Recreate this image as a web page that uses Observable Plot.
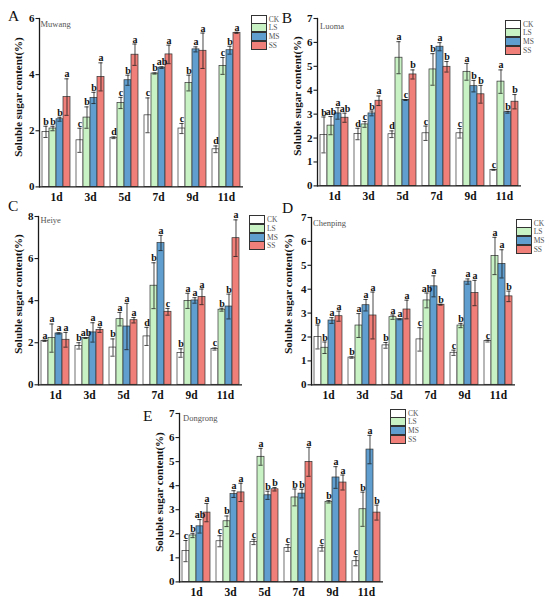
<!DOCTYPE html>
<html>
<head>
<meta charset="utf-8">
<script src="https://cdn.jsdelivr.net/npm/d3@7"></script>
<script src="https://cdn.jsdelivr.net/npm/@observablehq/plot@0.6"></script>
<style>
  html, body { margin: 0; padding: 0; background: #fff; }
  #root { position: relative; width: 550px; height: 606px; overflow: hidden; background: #fff;
          font-family: "Liberation Serif", "Times New Roman", serif; }
  .ytitle { position: absolute; white-space: nowrap; font-weight: bold; font-size: 11px; color: #111;
            transform: translate(-50%, -50%) rotate(-90deg); }
  .plabel { position: absolute; font-size: 15.5px; color: #111; line-height: 1; }
  .pname { position: absolute; font-size: 8.5px; color: #555; line-height: 1; }
  .legend { position: absolute; font-size: 7.5px; color: #555; }
  .legend .row { display: flex; align-items: center; height: 8.6px; }
  .legend .sw { width: 14px; height: 7px; border: 1px solid #333; margin-right: 2px; }
  svg.panel text { font-weight: bold; }
</style>
</head>
<body>
<div id="root"></div>
<script>
// ---------- data ----------
const days = ["1d", "3d", "5d", "7d", "9d", "11d"];
const treatments = ["CK", "LS", "MS", "SS"];

// Panel A – Muwang (rows: CK, LS, MS, SS)
const muwangMean = [
  [1.96, 1.66, 1.75, 2.55, 2.08, 1.34],
  [2.08, 2.47, 2.99, 4.04, 3.70, 4.31],
  [2.41, 3.17, 3.80, 4.25, 4.90, 4.87],
  [3.20, 3.92, 4.71, 4.72, 4.85, 5.49]
];
const muwangErr = [
  [0.20, 0.43, 0.03, 0.62, 0.18, 0.12],
  [0.08, 0.38, 0.20, 0.02, 0.28, 0.30],
  [0.07, 0.20, 0.18, 0.03, 0.09, 0.14],
  [0.65, 0.50, 0.38, 0.33, 0.63, 0.02]
];
const muwangSig = [
  ["b", "c", "d", "c", "c", "d"],
  ["b", "b", "c", "b", "b", "c"],
  ["b", "b", "b", "ab", "a", "b"],
  ["a", "a", "a", "a", "a", "a"]
];

// Panel B – Luoma
const luomaMean = [
  [2.13, 2.17, 2.16, 2.20, 2.20, 0.67],
  [2.52, 2.57, 5.36, 4.87, 4.77, 4.36],
  [3.03, 3.03, 3.59, 5.82, 4.17, 3.08],
  [2.85, 3.56, 4.66, 4.98, 3.83, 3.52]
];
const luomaErr = [
  [0.75, 0.24, 0.14, 0.30, 0.20, 0.02],
  [0.38, 0.12, 0.67, 0.66, 0.35, 0.49],
  [0.24, 0.10, 0.02, 0.17, 0.24, 0.04],
  [0.19, 0.20, 0.19, 0.22, 0.37, 0.30]
];
const luomaSig = [
  ["b", "d", "d", "c", "c", "c"],
  ["ab", "c", "a", "b", "a", "a"],
  ["a", "b", "c", "a", "b", "b"],
  ["ab", "a", "b", "b", "b", "b"]
];

// Panel C – Heiye
const heiyeMean = [
  [2.09, 1.85, 1.77, 2.30, 1.51, 1.70],
  [2.22, 2.22, 3.12, 4.71, 3.99, 3.57],
  [2.44, 2.49, 2.77, 6.74, 4.01, 3.72],
  [2.14, 2.61, 3.07, 3.47, 4.18, 6.97]
];
const heiyeErr = [
  [0.03, 0.15, 0.41, 0.43, 0.20, 0.05],
  [0.67, 0.02, 0.32, 1.09, 0.36, 0.07],
  [0.03, 0.46, 1.10, 0.36, 0.13, 0.59],
  [0.35, 0.12, 0.13, 0.16, 0.37, 0.87]
];
const heiyeSig = [
  ["a", "b", "b", "d", "b", "c"],
  ["a", "ab", "a", "b", "a", "b"],
  ["a", "a", "a", "a", "a", "b"],
  ["a", "a", "a", "c", "a", "a"]
];

// Panel D – Chenping
const chenpingMean = [
  [2.00, 1.14, 1.65, 1.90, 1.34, 1.83],
  [1.55, 2.48, 2.83, 3.53, 2.48, 5.39],
  [2.69, 3.33, 2.74, 4.12, 4.32, 5.06],
  [2.87, 2.90, 3.15, 3.35, 3.84, 3.70]
];
const chenpingErr = [
  [0.50, 0.03, 0.12, 0.49, 0.11, 0.04],
  [0.24, 0.50, 0.09, 0.31, 0.09, 0.78],
  [0.12, 0.24, 0.02, 0.44, 0.11, 0.59],
  [0.21, 0.98, 0.39, 0.02, 0.53, 0.22]
];
const chenpingSig = [
  ["b", "b", "b", "c", "c", "c"],
  ["b", "a", "a", "ab", "b", "a"],
  ["a", "a", "a", "a", "a", "a"],
  ["a", "a", "a", "b", "a", "b"]
];

// Panel E – Dongrong
const dongrongMean = [
  [1.28, 1.69, 1.66, 1.41, 1.40, 0.86],
  [1.93, 2.52, 5.20, 3.51, 3.33, 3.02],
  [2.31, 3.65, 3.60, 3.67, 4.34, 5.50],
  [2.88, 3.72, 3.85, 4.99, 4.13, 2.88]
];
const dongrongErr = [
  [0.44, 0.23, 0.11, 0.14, 0.12, 0.19],
  [0.09, 0.22, 0.35, 0.35, 0.05, 0.71],
  [0.28, 0.14, 0.17, 0.18, 0.45, 0.59],
  [0.38, 0.38, 0.07, 0.60, 0.31, 0.31]
];
const dongrongSig = [
  ["c", "c", "c", "c", "c", "c"],
  ["b", "b", "a", "b", "b", "b"],
  ["ab", "a", "b", "b", "a", "a"],
  ["a", "a", "b", "a", "a", "b"]
];

const yTitle = "Soluble sugar content(%)";
const colors = ["#ffffff", "#c8f2c4", "#5f9ecf", "#ef7f78"];
const SERIF = '"Liberation Serif", "Times New Roman", serif';

// ---------- layout ----------
const panels = [
  {tag: "A", name: "Muwang",   mean: muwangMean,   err: muwangErr,   sig: muwangSig,   yMax: 6, ticks: [0, 2, 4, 6],
   x0: 36.7, x1: 245.5, yTop: 18.3, yBot: 186.7, tOff: 18.5, leg: [250.7, 15], lab: [8, 7.5], nm: [40.5, 20]},
  {tag: "B", name: "Luoma",    mean: luomaMean,    err: luomaErr,    sig: luomaSig,    yMax: 7, ticks: [0,1,2,3,4,5,6,7],
   x0: 314.3, x1: 524, yTop: 18.3, yBot: 185.7, tOff: 17, leg: [505, 20], lab: [281.7, 10], nm: [320, 21.5]},
  {tag: "C", name: "Heiye",    mean: heiyeMean,    err: heiyeErr,    sig: heiyeSig,    yMax: 8, ticks: [0, 2, 4, 6, 8],
   x0: 36, x1: 244, yTop: 215.7, yBot: 384, tOff: 18, leg: [249, 215.7], lab: [8, 198], nm: [40.5, 216]},
  {tag: "D", name: "Chenping", mean: chenpingMean, err: chenpingErr, sig: chenpingSig, yMax: 7, ticks: [0,1,2,3,4,5,6,7],
   x0: 309, x1: 516, yTop: 216.7, yBot: 384, tOff: 21, leg: [515.7, 219], lab: [282, 199.5], nm: [313, 218.5]},
  {tag: "E", name: "Dongrong", mean: dongrongMean, err: dongrongErr, sig: dongrongSig, yMax: 7, ticks: [0,1,2,3,4,5,6,7],
   x0: 176.7, x1: 384, yTop: 413.3, yBot: 581.7, tOff: 18, leg: [390, 409], lab: [143, 408], nm: [183, 414]}
];

const root = document.getElementById("root");
const ML = 30, MR = 2, MT = 16, MB = 22;

for (const p of panels) {
  const rows = [];
  treatments.forEach((t, i) => {
    days.forEach((d, j) => {
      const v = p.mean[i][j], e = p.err[i][j];
      rows.push({day: d, t, v, lo: v - e, hi: v + e, sig: p.sig[i][j]});
    });
  });

  const W = p.x1 - p.x0 + ML + MR;
  const H = p.yBot - p.yTop + MT + MB;
  const ink = "#1a1a1a";

  const chart = Plot.plot({
    width: W, height: H,
    marginLeft: ML, marginRight: MR, marginTop: MT, marginBottom: MB,
    className: "panel",
    style: {fontFamily: SERIF, fontWeight: "bold", fontSize: "11px", background: "transparent", overflow: "visible", color: "#111"},
    fx: {domain: days, padding: 0, label: null},
    x: {domain: treatments, paddingInner: 0, paddingOuter: 0.4, axis: null},
    y: {domain: [0, p.yMax], label: null},
    color: {domain: treatments, range: colors},
    marks: [
      Plot.barY(rows, {fx: "day", x: "t", y: "v", fill: "t", stroke: "#333", strokeWidth: 0.7}),
      Plot.ruleX(rows, {fx: "day", x: "t", y1: "lo", y2: "hi", stroke: ink, strokeWidth: 0.8}),
      Plot.tickY(rows, {fx: "day", x: "t", y: "hi", insetLeft: 1.4, insetRight: 1.4, stroke: ink, strokeWidth: 0.8}),
      Plot.tickY(rows, {fx: "day", x: "t", y: "lo", insetLeft: 1.4, insetRight: 1.4, stroke: ink, strokeWidth: 0.8}),
      Plot.text(rows, {fx: "day", x: "t", y: "hi", text: "sig", lineAnchor: "bottom", dy: -1.5,
                       fontWeight: "bold", fontSize: 10, fill: "#111"}),
      Plot.ruleY([0], {stroke: ink, strokeWidth: 1.3}),
      Plot.frame({anchor: "left", facetAnchor: "left", stroke: ink, strokeWidth: 1.3}),
      Plot.axisY({ticks: p.ticks, tickFormat: d => String(d), tickSize: 3.5, tickPadding: 1.5,
                  fontSize: 11, fontWeight: "bold", fill: "#111", label: null, stroke: ink, strokeWidth: 1.1}),
      Plot.axisFx({anchor: "bottom", tickSize: 0, tickPadding: 6, fontSize: 11.5, fontWeight: "bold", fill: "#111", label: null})
    ]
  });
  chart.style.position = "absolute";
  chart.style.left = (p.x0 - ML) + "px";
  chart.style.top = (p.yTop - MT) + "px";
  chart.style.maxWidth = "none";
  root.appendChild(chart);

  // y title
  const yt = document.createElement("div");
  yt.className = "ytitle";
  yt.textContent = yTitle;
  yt.style.left = (p.x0 - p.tOff) + "px";
  yt.style.top = ((p.yTop + p.yBot) / 2 - 6) + "px";
  root.appendChild(yt);

  // panel letter
  const lab = document.createElement("div");
  lab.className = "plabel";
  lab.textContent = p.tag;
  lab.style.left = p.lab[0] + "px";
  lab.style.top = p.lab[1] + "px";
  root.appendChild(lab);

  // cultivar name
  const nm = document.createElement("div");
  nm.className = "pname";
  nm.textContent = p.name;
  nm.style.left = p.nm[0] + "px";
  nm.style.top = p.nm[1] + "px";
  root.appendChild(nm);

  // legend
  const lg = document.createElement("div");
  lg.className = "legend";
  lg.style.left = p.leg[0] + "px";
  lg.style.top = p.leg[1] + "px";
  treatments.forEach((t, i) => {
    const r = document.createElement("div");
    r.className = "row";
    const sw = document.createElement("div");
    sw.className = "sw";
    sw.style.background = colors[i];
    const tx = document.createElement("span");
    tx.textContent = t;
    r.appendChild(sw); r.appendChild(tx);
    lg.appendChild(r);
  });
  root.appendChild(lg);
}
</script>
</body>
</html>
